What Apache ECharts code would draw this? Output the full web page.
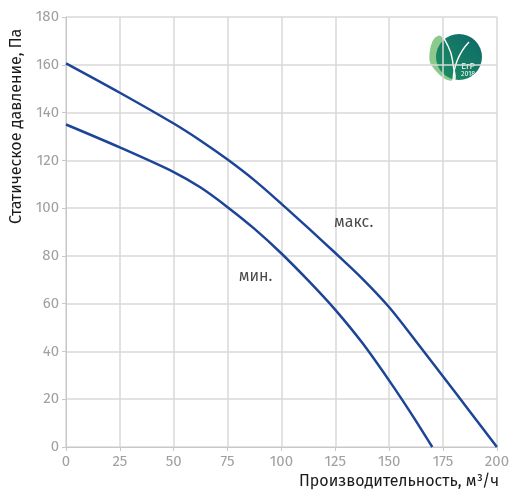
<!DOCTYPE html>
<html><head><meta charset="utf-8">
<script src="https://cdn.jsdelivr.net/npm/echarts@6/dist/echarts.min.js"></script>
<style>html,body{margin:0;padding:0;background:#fff}#c{width:512px;height:492px}</style>
</head><body><div id="c"></div>
<script>
const xMax = [0, 25, 50, 62.5, 75, 87.5, 100, 112.5, 125, 137.5, 150, 162.5, 175, 187.5, 200];
const yMax = [160.6, 148.3, 135.4, 128.2, 120.3, 111.6, 101.8, 91.6, 81.2, 70.5, 58.5, 44.2, 29.5, 14.8, 0];
const xMin = [0, 25, 50, 62.5, 75, 87.5, 100, 112.5, 125, 137.5, 150, 160, 170];
const yMin = [135, 125.4, 115.1, 108.6, 100.4, 91.3, 81, 69.6, 57.4, 43.6, 27.8, 14.3, 0];
const xName = 'Производительность, м³/ч';
const yName = 'Статическое давление, Па';
const labelMax = 'макс.';
const labelMin = 'мин.';

const chart = echarts.init(document.getElementById('c'), null, {renderer: 'canvas'});
const font = '"Fira Sans","Noto Sans","Open Sans",sans-serif';
const lineColor = '#1d4597';
chart.setOption({
  animation: false,
  grid: {left: 66, right: 13, top: 17, bottom: 45},
  xAxis: {
    type: 'value', min: 0, max: 200, interval: 25,
    axisLine: {show: true, lineStyle: {color: '#c8c8c8'}},
    axisTick: {show: true, length: 4, lineStyle: {color: '#c8c8c8'}},
    axisLabel: {color: '#a0a0a0', fontSize: 15, fontFamily: font, margin: 7},
    splitLine: {show: true, lineStyle: {color: '#d9d9d9', width: 1.5}}
  },
  yAxis: {
    type: 'value', min: 0, max: 180, interval: 20,
    axisLine: {show: true, lineStyle: {color: '#c8c8c8'}},
    axisTick: {show: true, length: 4, lineStyle: {color: '#c8c8c8'}},
    axisLabel: {color: '#a0a0a0', fontSize: 15, fontFamily: font, margin: 7},
    splitLine: {show: true, lineStyle: {color: '#d9d9d9', width: 1.5}}
  },
  series: [
    {type: 'line', smooth: 0.3, symbol: 'none', data: xMax.map((x, i) => [x, yMax[i]]),
     lineStyle: {color: lineColor, width: 2.5}},
    {type: 'line', smooth: 0.3, symbol: 'none', data: xMin.map((x, i) => [x, yMin[i]]),
     lineStyle: {color: lineColor, width: 2.5}},
    {type: 'scatter', symbolSize: 1, itemStyle: {color: 'rgba(0,0,0,0)'}, silent: true,
     data: [
       {value: [133.5, 94], label: {show: true, position: 'inside', formatter: labelMax, color: '#1a1a1a', fontSize: 16, fontFamily: font}},
       {value: [88, 71.5], label: {show: true, position: 'inside', formatter: labelMin, color: '#1a1a1a', fontSize: 16, fontFamily: font}}
     ]}
  ],
  graphic: [
    {type: 'text', x: 299, y: 474, style: {text: xName, fill: '#1a1a1a', font: '16px ' + font}},
    {type: 'text', x: 9, y: 224, rotation: Math.PI / 2, style: {text: yName, fill: '#1a1a1a', font: '16px ' + font, verticalAlign: 'top'}},
    {type: 'polygon', shape: {points: [[453, 81], [434, 70], [429, 52], [438, 35], [448, 46], [453, 64]], smooth: 0.5},
     style: {fill: '#8cc98c'}},
    {type: 'circle', shape: {cx: 459, cy: 57, r: 23},
     style: {fill: new echarts.graphic.LinearGradient(0, 1, 1, 0, [{offset: 0, color: '#1c9160'}, {offset: 1, color: '#0e6669'}])}},
    {type: 'polygon', shape: {points: [[453, 81], [434, 70], [429, 52], [438, 35], [448, 46], [453, 64]], smooth: 0.5},
     style: {fill: 'none', stroke: '#fff', lineWidth: 1.4}},
    {type: 'bezierCurve', shape: {x1: 453, y1: 81, x2: 469, y2: 42, cpx1: 454, cpy1: 58},
     style: {fill: 'none', stroke: '#fff', lineWidth: 1.4}},
    {type: 'text', x: 468, y: 66, style: {text: 'ErP', fill: '#fff', font: '9px ' + font, align: 'center', verticalAlign: 'middle'}},
    {type: 'text', x: 468, y: 74.5, style: {text: '2018', fill: '#fff', font: '7px ' + font, align: 'center', verticalAlign: 'middle'}}
  ]
});
</script></body></html>
